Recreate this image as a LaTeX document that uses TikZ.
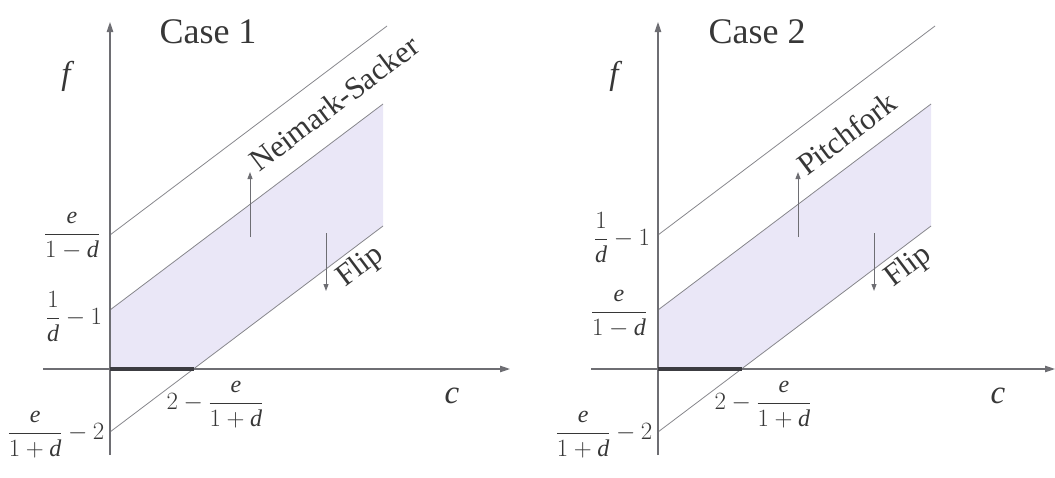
\documentclass[tikz,border=0pt]{standalone}
\usepackage{fontspec}
\setmainfont{Liberation Serif}
\usetikzlibrary{arrows.meta}
\definecolor{axisgray}{RGB}{110,110,115}
\definecolor{linegray}{RGB}{135,135,140}
\definecolor{txtgray}{RGB}{55,55,55}
\definecolor{shadecol}{RGB}{234,231,247}
\definecolor{bargray}{RGB}{60,60,65}
\begin{document}
\begin{tikzpicture}[x=1pt,y=1pt,
  axis/.style={draw=axisgray, line width=1.1pt, -{Triangle[length=10pt,width=6.5pt]}},
  bnd/.style={draw=linegray, line width=0.8pt},
  arr/.style={draw=axisgray, line width=1pt, -{Triangle[length=7pt,width=5pt]}},
  thickbar/.style={draw=bargray, line width=4pt},
  lab/.style={text=txtgray, font=\fontsize{24}{28}\selectfont, inner sep=0pt},
  varlab/.style={text=txtgray, font=\fontsize{33}{38}\selectfont\itshape, inner sep=0pt},
  title/.style={text=txtgray, font=\fontsize{36}{40}\selectfont, inner sep=0pt},
  rotlab/.style={text=txtgray, font=\fontsize{31}{34}\selectfont, inner sep=0pt, rotate=37, anchor=base west}]
\useasboundingbox (0,0) rectangle (1055,-477);
% ---------------- Panel 1 ----------------
\begin{scope}[name prefix=A-]
\coordinate (o) at (110,-369);
\coordinate (xs) at (43,-369);
\coordinate (xe) at (510,-369);
\coordinate (ys) at (110,-455);
\coordinate (ye) at (110,-22);
\coordinate (cx) at (193.5,-369);
\coordinate (t1) at (110,-235);
\coordinate (t2) at (387,-26);
\coordinate (m1) at (110,-310);
\coordinate (m2) at (383,-104);
\coordinate (l1) at (110,-432);
\coordinate (l2) at (383,-226);
\fill[shadecol] (o) -- (cx) -- (l2) -- (m2) -- (m1) -- cycle;
\draw[bnd] (t1) -- (t2);
\draw[bnd] (m1) -- (m2);
\draw[bnd] (l1) -- (l2);
\draw[axis] (xs) -- (xe);
\draw[axis] (ys) -- (ye);
\draw[thickbar] (o) -- (cx);
\coordinate (ua1) at (250,-237);
\coordinate (ua2) at (250,-172);
\coordinate (da1) at (326,-233);
\coordinate (da2) at (326,-291);
\draw[arr] (ua1) -- (ua2);
\draw[arr] (da1) -- (da2);
\node[title, anchor=base] (case) at (208,-43) {Case 1};
\node[varlab, anchor=base] (f) at (66,-84) {f};
\node[varlab, anchor=base] (c) at (452,-403) {c};
\node[lab] (l-a) at (72,-236) {$\displaystyle\frac{\textit{e}}{1-\textit{d}}$};
\node[lab] (l-b) at (74,-317) {$\displaystyle\frac{1}{\textit{d}}-1$};
\node[lab] (l-c) at (56,-435) {$\displaystyle\frac{\textit{e}}{1+\textit{d}}-2$};
\node[lab] (l-d) at (215,-405) {$\displaystyle 2-\frac{\textit{e}}{1+\textit{d}}$};
\node[rotlab] (ns) at (259,-173) {Neimark-Sacker};
\node[rotlab] (fl) at (345,-288) {Flip};
\end{scope}
% ---------------- Panel 2 ----------------
\begin{scope}[xshift=548pt, name prefix=B-]
\coordinate (o) at (110,-369);
\coordinate (xs) at (43,-369);
\coordinate (xe) at (507,-369);
\coordinate (ys) at (110,-455);
\coordinate (ye) at (110,-22);
\coordinate (cx) at (193.5,-369);
\coordinate (t1) at (110,-235);
\coordinate (t2) at (387,-26);
\coordinate (m1) at (110,-310);
\coordinate (m2) at (383,-104);
\coordinate (l1) at (110,-432);
\coordinate (l2) at (383,-226);
\fill[shadecol] (o) -- (cx) -- (l2) -- (m2) -- (m1) -- cycle;
\draw[bnd] (t1) -- (t2);
\draw[bnd] (m1) -- (m2);
\draw[bnd] (l1) -- (l2);
\draw[axis] (xs) -- (xe);
\draw[axis] (ys) -- (ye);
\draw[thickbar] (o) -- (cx);
\coordinate (ua1) at (250,-237);
\coordinate (ua2) at (250,-172);
\coordinate (da1) at (326,-233);
\coordinate (da2) at (326,-291);
\draw[arr] (ua1) -- (ua2);
\draw[arr] (da1) -- (da2);
\node[title, anchor=base] (case) at (209,-43) {Case 2};
\node[varlab, anchor=base] (f) at (66,-84) {f};
\node[varlab, anchor=base] (c) at (450,-403) {c};
\node[lab] (l-a) at (74,-238) {$\displaystyle\frac{1}{\textit{d}}-1$};
\node[lab] (l-b) at (71,-314) {$\displaystyle\frac{\textit{e}}{1-\textit{d}}$};
\node[lab] (l-c) at (56,-435) {$\displaystyle\frac{\textit{e}}{1+\textit{d}}-2$};
\node[lab] (l-d) at (215,-405) {$\displaystyle 2-\frac{\textit{e}}{1+\textit{d}}$};
\node[rotlab] (pf) at (259,-177) {Pitchfork};
\node[rotlab] (fl) at (345,-288) {Flip};
\end{scope}
\end{tikzpicture}
\end{document}
